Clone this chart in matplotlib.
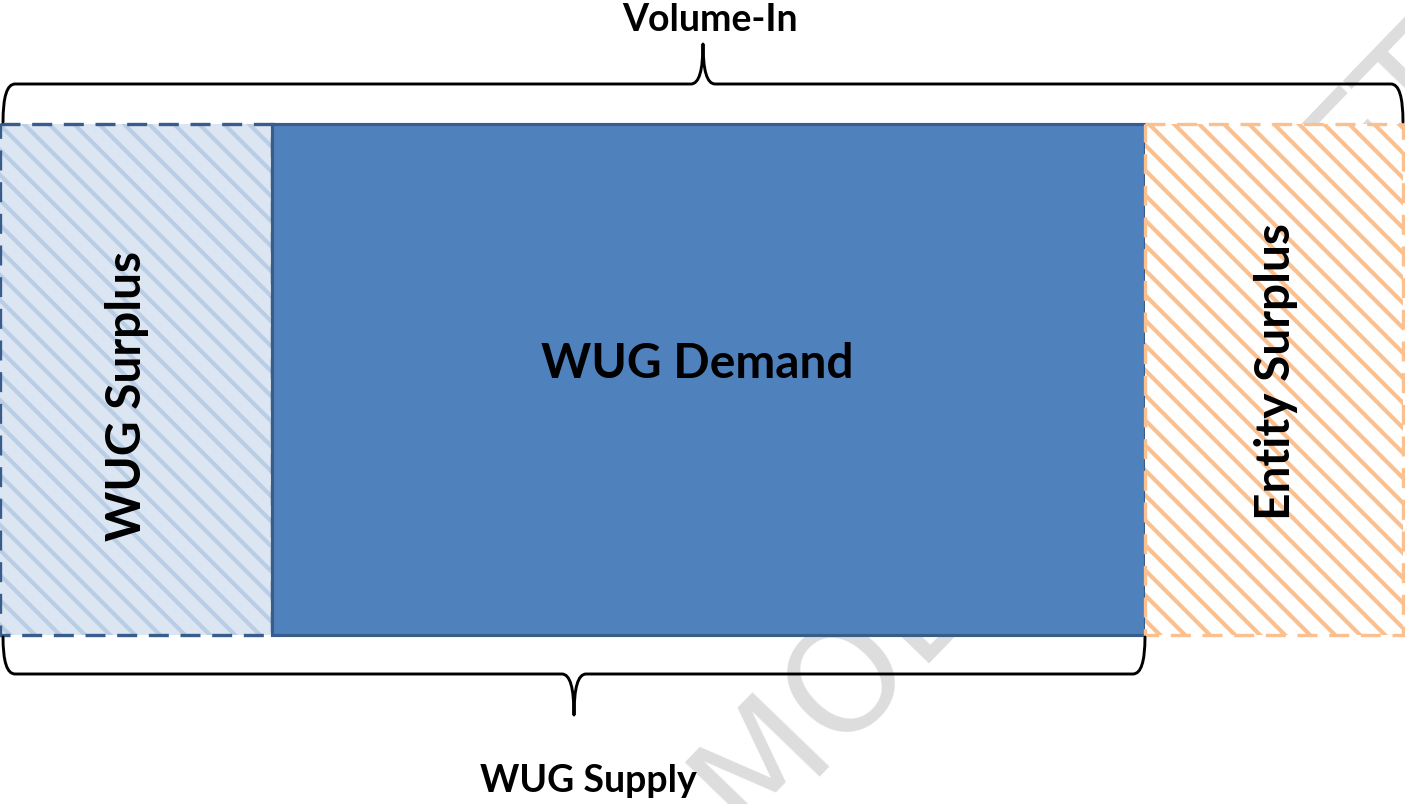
import numpy as np
import matplotlib
matplotlib.use('Agg')
import matplotlib.pyplot as plt
from matplotlib.path import Path
from matplotlib.patches import PathPatch

# segment data (widths in drawing units, left to right)
segments = ['WUG Surplus', 'WUG Demand', 'Entity Surplus']
widths = [272, 873, 258]
brace_labels = ['Volume-In', 'WUG Supply']
brace_spans = [(0, 3), (0, 2)]  # which segments each brace covers

fills = ['#DCE6F2', '#4F81BD', '#FFFFFF']
hatch_colors = ['#B9CDE5', None, '#FAC090']
edge_colors = ['#385D8A', '#385D8A', '#FAC090']

DPI = 75
W, H = 1405, 804
plt.rcParams['font.family'] = ['Lato', 'DejaVu Sans']
plt.rcParams['hatch.linewidth'] = 4.0

fig = plt.figure(figsize=(W / DPI, H / DPI), dpi=DPI)
ax = fig.add_axes([0, 0, 1, 1])
ax.set_xlim(0, W)
ax.set_ylim(H, 0)
ax.axis('off')

lefts = np.concatenate([[0], np.cumsum(widths)[:-1]])
rights = lefts + np.array(widths)
y_top, y_bot = 124, 635
yc, bh = (y_top + y_bot) / 2, y_bot - y_top

# watermark behind everything
ax.text(753, 847, 'MODEL DRAFT', rotation=46, rotation_mode='anchor',
        ha='left', va='baseline', fontsize=140, color='#DDDDDD',
        family='DejaVu Sans', zorder=0)

for i, seg in enumerate(segments):
    if hatch_colors[i]:
        ax.barh(yc, widths[i], left=lefts[i], height=bh, color=fills[i],
                edgecolor=hatch_colors[i], linewidth=0, hatch='\\', zorder=2 + i)
        ax.barh(yc, widths[i], left=lefts[i], height=bh, fill=False,
                edgecolor=edge_colors[i], linewidth=3.2,
                linestyle=(0, (6, 3.5)), zorder=2.5 + i)
    else:
        ax.barh(yc, widths[i], left=lefts[i], height=bh, color=fills[i],
                edgecolor=edge_colors[i], linewidth=3, zorder=2 + i)


def brace(x0, x1, yend, yline, ytip, r=12, w=12):
    xt = (x0 + x1) / 2
    verts = [(x0, yend), (x0, yline), (x0 + r, yline),
             (xt - w, yline), (xt, yline), (xt, ytip),
             (xt, yline), (xt + w, yline),
             (x1 - r, yline), (x1, yline), (x1, yend)]
    codes = [Path.MOVETO, Path.CURVE3, Path.CURVE3,
             Path.LINETO, Path.CURVE3, Path.CURVE3,
             Path.CURVE3, Path.CURVE3,
             Path.LINETO, Path.CURVE3, Path.CURVE3]
    ax.add_patch(PathPatch(Path(verts, codes), fill=False, color='black',
                           lw=2.8, capstyle='round', joinstyle='round', zorder=6))
    return xt


# top brace (Volume-In) and bottom brace (WUG Supply)
s0, s1 = brace_spans[0]
brace(lefts[s0] + 3, rights[s1 - 1], 122, 84, 44)
ax.text(710, 20, brace_labels[0], ha='center', va='center', fontsize=36,
        fontweight='bold', zorder=7)

s0, s1 = brace_spans[1]
brace(lefts[s0] + 3, rights[s1 - 1], 637, 674, 715)
ax.text(588, 781, brace_labels[1], ha='center', va='center', fontsize=36,
        fontweight='bold', zorder=7)

# segment labels
ax.text(127, 396, segments[0], rotation=90, ha='center', va='center',
        fontsize=46, fontweight='bold', zorder=7)
ax.text(697, 364, segments[1], ha='center', va='center',
        fontsize=46, fontweight='bold', zorder=7)
ax.text(1276, 372, segments[2], rotation=90, ha='center', va='center',
        fontsize=46, fontweight='bold', zorder=7)

fig.savefig('out.png', dpi=DPI)
